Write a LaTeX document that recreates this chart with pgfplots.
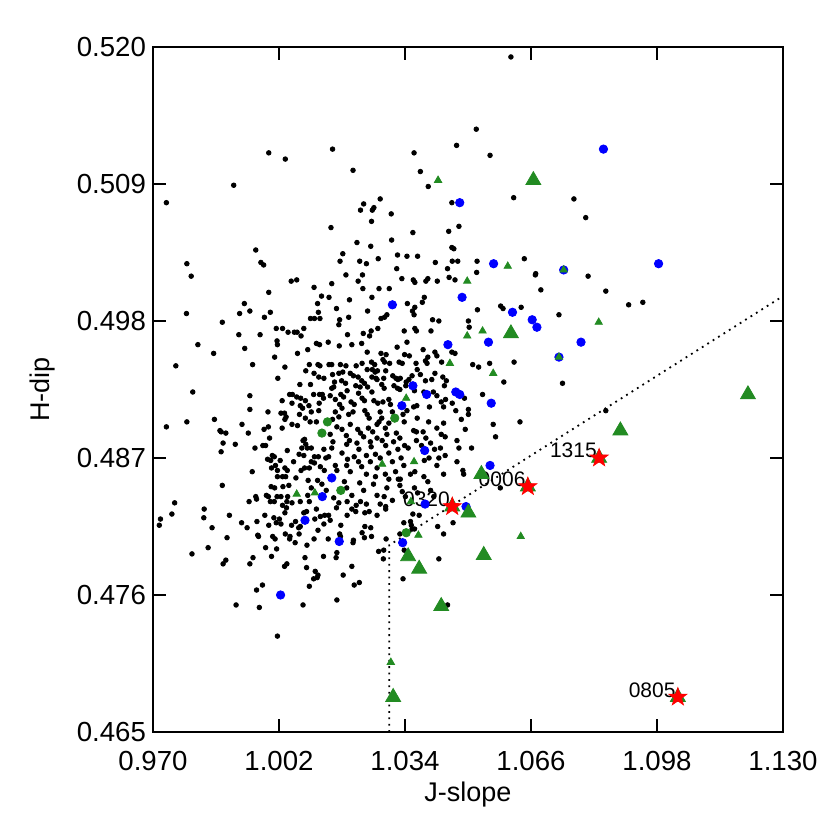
\documentclass[border=0pt]{standalone}
\usepackage{pgfplots}
\usepackage{pgfplotstable}
\pgfplotsset{compat=1.18}
\usepackage{fontspec}
\setmainfont{Liberation Sans}
\definecolor{fgreen}{RGB}{34,139,34}
\pgfdeclareplotmark{fstar}{%
  \pgfpathmoveto{\pgfpointpolar{90}{\pgfplotmarksize}}%
  \pgfpathlineto{\pgfpointpolar{126}{0.40\pgfplotmarksize}}%
  \pgfpathlineto{\pgfpointpolar{162}{\pgfplotmarksize}}%
  \pgfpathlineto{\pgfpointpolar{198}{0.40\pgfplotmarksize}}%
  \pgfpathlineto{\pgfpointpolar{234}{\pgfplotmarksize}}%
  \pgfpathlineto{\pgfpointpolar{270}{0.40\pgfplotmarksize}}%
  \pgfpathlineto{\pgfpointpolar{306}{\pgfplotmarksize}}%
  \pgfpathlineto{\pgfpointpolar{342}{0.40\pgfplotmarksize}}%
  \pgfpathlineto{\pgfpointpolar{18}{\pgfplotmarksize}}%
  \pgfpathlineto{\pgfpointpolar{54}{0.40\pgfplotmarksize}}%
  \pgfpathclose
  \pgfusepathqfillstroke
}

\pgfplotstableread{
x y
0.9994 0.5115
1.0036 0.5110
0.9905 0.5089
0.9734 0.5075
0.9961 0.5037
0.9786 0.5026
0.9974 0.5027
0.9981 0.5025
1.0609 0.5192
1.0521 0.5134
1.0156 0.5118
1.0471 0.5121
1.0363 0.5115
1.0556 0.5113
1.0208 0.5101
1.0379 0.5100
1.0399 0.5088
1.0459 0.5075
1.0616 0.5079
1.0277 0.5078
1.0235 0.5074
1.0227 0.5069
1.0257 0.5069
1.0261 0.5071
1.0305 0.5066
1.0255 0.5060
1.0152 0.5055
1.0360 0.5051
1.0451 0.5052
1.0477 0.5056
1.0218 0.5043
1.0306 0.5045
1.0253 0.5040
1.0459 0.5039
1.0464 0.5038
1.0182 0.5034
1.0175 0.5028
1.0225 0.5028
1.0242 0.5026
1.0272 0.5030
1.0321 0.5033
1.0345 0.5032
1.0372 0.5032
1.0417 0.5027
1.0448 0.5022
1.0460 0.5028
1.0474 0.5028
1.0523 0.5028
1.0522 0.5019
1.0319 0.5022
1.0643 0.5030
1.0672 0.5018
1.0190 0.5017
1.0232 0.5017
1.0769 0.5078
1.0799 0.5063
1.0805 0.5016
1.0850 0.5004
1.0908 0.4993
1.0944 0.4995
1.0731 0.4985
1.0740 0.4930
1.0850 0.4908
0.9797 0.5016
1.0051 0.5012
1.0065 0.5013
1.0109 0.5007
0.9994 0.5003
1.0128 0.5000
0.9932 0.4994
1.0118 0.4994
0.9946 0.4988
0.9998 0.4987
0.9785 0.4986
0.9920 0.4986
0.9983 0.4983
1.0120 0.4987
1.0100 0.4982
1.0110 0.4982
1.0124 0.4982
0.9876 0.4979
1.0013 0.4974
1.0029 0.4974
1.0043 0.4971
1.0059 0.4971
1.0066 0.4971
1.0076 0.4968
0.9918 0.4969
0.9972 0.4969
1.0083 0.4974
1.0015 0.4964
1.0016 0.4961
0.9814 0.4961
0.9933 0.4958
1.0093 0.4957
1.0115 0.4962
1.0123 0.4961
0.9854 0.4954
1.0067 0.4954
1.0009 0.4951
0.9758 0.4944
0.9953 0.4945
1.0035 0.4943
1.0097 0.4945
1.0119 0.4945
1.0124 0.4944
1.0088 0.4940
1.0109 0.4938
1.0121 0.4935
1.0017 0.4934
1.0134 0.4934
1.0073 0.4929
1.0100 0.4929
0.9801 0.4923
0.9946 0.4920
1.0047 0.4921
1.0054 0.4921
1.0065 0.4919
1.0075 0.4918
1.0087 0.4916
1.0108 0.4921
1.0123 0.4921
1.0130 0.4921
1.0028 0.4916
1.0053 0.4914
1.0074 0.4912
1.0080 0.4910
1.0096 0.4912
1.0122 0.4914
1.0133 0.4918
0.9946 0.4909
0.9992 0.4907
1.0025 0.4906
1.0034 0.4906
1.0038 0.4903
1.0035 0.4901
1.0072 0.4905
1.0102 0.4907
1.0121 0.4908
1.0087 0.4902
0.9856 0.4901
0.9786 0.4899
0.9734 0.4895
0.9926 0.4897
0.9982 0.4893
0.9993 0.4895
1.0028 0.4894
1.0053 0.4897
1.0067 0.4896
1.0099 0.4899
1.0115 0.4899
0.9870 0.4892
0.9873 0.4891
0.9885 0.4890
0.9942 0.4890
0.9878 0.4882
0.9996 0.4886
0.9909 0.4881
0.9873 0.4875
0.9959 0.4878
0.9979 0.4880
0.9986 0.4880
1.0003 0.4872
1.0008 0.4871
1.0041 0.4876
1.0081 0.4884
1.0085 0.4885
1.0088 0.4881
1.0078 0.4878
1.0092 0.4878
1.0102 0.4878
1.0071 0.4873
1.0083 0.4872
1.0110 0.4871
1.0120 0.4871
1.0102 0.4867
1.0110 0.4866
1.0134 0.4877
1.0139 0.4870
0.9991 0.4869
0.9999 0.4868
1.0023 0.4868
1.0057 0.4867
1.0011 0.4864
1.0016 0.4860
1.0035 0.4862
1.0041 0.4860
1.0001 0.4862
1.0076 0.4860
1.0085 0.4862
1.0097 0.4862
1.0125 0.4863
1.0135 0.4860
0.9952 0.4859
1.0037 0.4855
1.0029 0.4855
1.0016 0.4855
1.0063 0.4854
1.0094 0.4852
1.0118 0.4852
1.0129 0.4849
0.9876 0.4848
1.0000 0.4847
1.0009 0.4846
1.0030 0.4847
1.0045 0.4848
1.0093 0.4840
1.0102 0.4846
1.0140 0.4844
0.9988 0.4840
0.9993 0.4839
1.0015 0.4839
1.0025 0.4839
1.0042 0.4839
0.9961 0.4839
0.9963 0.4837
0.9755 0.4834
0.9944 0.4835
0.9998 0.4835
1.0008 0.4835
1.0040 0.4835
1.0053 0.4834
1.0074 0.4835
1.0097 0.4835
0.9748 0.4825
0.9719 0.4821
0.9716 0.4816
0.9830 0.4829
0.9829 0.4822
0.9850 0.4814
0.9894 0.4824
0.9925 0.4818
0.9939 0.4814
0.9964 0.4819
0.9984 0.4824
0.9994 0.4816
1.0007 0.4822
1.0013 0.4818
1.0021 0.4821
1.0025 0.4817
1.0029 0.4832
1.0039 0.4830
1.0035 0.4826
1.0083 0.4826
1.0090 0.4827
1.0115 0.4829
1.0125 0.4823
1.0136 0.4824
1.0052 0.4816
1.0062 0.4819
1.0070 0.4814
1.0074 0.4815
1.0111 0.4821
1.0119 0.4812
1.0134 0.4817
0.9966 0.4808
0.9968 0.4807
1.0004 0.4807
1.0010 0.4805
1.0036 0.4809
1.0048 0.4807
1.0047 0.4805
1.0071 0.4809
0.9888 0.4806
0.9840 0.4798
0.9799 0.4793
0.9986 0.4798
1.0014 0.4797
1.0061 0.4802
1.0091 0.4800
1.0109 0.4805
1.0001 0.4791
0.9954 0.4790
0.9946 0.4785
0.9878 0.4785
0.9885 0.4788
1.0034 0.4783
1.0040 0.4785
1.0086 0.4790
1.0090 0.4782
1.0133 0.4791
1.0112 0.4779
1.0108 0.4773
1.0117 0.4774
1.0119 0.4776
1.0097 0.4767
0.9978 0.4768
0.9963 0.4764
0.9911 0.4752
0.9970 0.4750
1.0081 0.4752
1.0016 0.4727
1.0166 0.4830
1.0146 0.4824
1.0150 0.4820
1.0193 0.4824
1.0205 0.4829
1.0215 0.4827
1.0216 0.4832
1.0238 0.4826
1.0249 0.4827
1.0269 0.4824
1.0291 0.4829
1.0291 0.4831
1.0177 0.4816
1.0238 0.4815
1.0253 0.4814
1.0231 0.4810
1.0237 0.4806
1.0255 0.4807
1.0174 0.4809
1.0176 0.4807
1.0145 0.4805
1.0209 0.4804
1.0208 0.4802
1.0292 0.4805
1.0167 0.4794
1.0165 0.4790
1.0273 0.4795
1.0286 0.4796
1.0285 0.4789
1.0205 0.4783
1.0183 0.4776
1.0211 0.4768
1.0224 0.4770
1.0167 0.4756
1.0360 0.4825
1.0376 0.4824
1.0337 0.4818
1.0354 0.4819
1.0356 0.4816
1.0358 0.4813
1.0364 0.4813
1.0327 0.4809
1.0423 0.4815
1.0438 0.4809
1.0462 0.4818
1.0338 0.4796
1.0448 0.4752
1.0426 0.4789
1.0335 0.4773
1.0154 0.5010
1.0221 0.5012
1.0233 0.5006
1.0274 0.5006
1.0300 0.5006
1.0332 0.5014
1.0361 0.5013
1.0365 0.5011
1.0393 0.5012
1.0398 0.5014
1.0422 0.5012
1.0452 0.5015
1.0467 0.5013
1.0671 0.5017
1.0685 0.5005
1.0147 0.4999
1.0199 0.4997
1.0256 0.4999
1.0389 0.4999
1.0384 0.4995
1.0346 0.4994
1.0365 0.4991
1.0166 0.4990
1.0245 0.4988
1.0294 0.4985
1.0288 0.4983
1.0279 0.4982
1.0410 0.4981
1.0426 0.4980
1.0359 0.4988
1.0363 0.4985
1.0524 0.4989
1.0583 0.4992
1.0589 0.4990
1.0635 0.4991
1.0501 0.4980
1.0503 0.4975
1.0174 0.4981
1.0172 0.4977
1.0197 0.4983
1.0271 0.4974
1.0254 0.4972
1.0250 0.4968
1.0338 0.4972
1.0365 0.4974
1.0369 0.4972
1.0406 0.4972
1.0194 0.4969
1.0234 0.4970
1.0145 0.4963
1.0173 0.4960
1.0205 0.4961
1.0230 0.4962
1.0244 0.4955
1.0279 0.4954
1.0292 0.4953
1.0320 0.4959
1.0339 0.4953
1.0351 0.4952
1.0345 0.4963
1.0386 0.4957
1.0398 0.4951
1.0421 0.4952
1.0416 0.4955
1.0459 0.4955
1.0467 0.4954
1.0512 0.4945
1.0527 0.4943
1.0555 0.4946
1.0617 0.4947
1.0591 0.4931
1.0147 0.4945
1.0154 0.4945
1.0176 0.4945
1.0190 0.4944
1.0216 0.4944
1.0231 0.4946
1.0255 0.4947
1.0263 0.4945
1.0284 0.4949
1.0288 0.4947
1.0301 0.4946
1.0325 0.4947
1.0333 0.4946
1.0368 0.4946
1.0392 0.4948
1.0396 0.4946
1.0416 0.4938
1.0433 0.4947
1.0156 0.4937
1.0172 0.4938
1.0182 0.4939
1.0201 0.4938
1.0209 0.4936
1.0244 0.4941
1.0257 0.4941
1.0264 0.4939
1.0270 0.4940
1.0221 0.4935
1.0230 0.4932
1.0237 0.4930
1.0256 0.4935
1.0266 0.4934
1.0269 0.4933
1.0291 0.4940
1.0286 0.4934
1.0309 0.4936
1.0317 0.4934
1.0322 0.4933
1.0328 0.4934
1.0343 0.4931
1.0350 0.4933
1.0358 0.4936
1.0371 0.4941
1.0379 0.4937
1.0392 0.4932
1.0408 0.4933
1.0436 0.4935
1.0440 0.4928
1.0445 0.4932
1.0161 0.4931
1.0179 0.4932
1.0189 0.4930
1.0215 0.4928
1.0226 0.4927
1.0154 0.4926
1.0159 0.4927
1.0193 0.4924
1.0177 0.4921
1.0184 0.4919
1.0245 0.4927
1.0256 0.4923
1.0281 0.4929
1.0287 0.4926
1.0312 0.4928
1.0321 0.4926
1.0342 0.4928
1.0327 0.4925
1.0364 0.4924
1.0388 0.4923
1.0412 0.4923
1.0421 0.4920
1.0443 0.4917
1.0460 0.4914
1.0491 0.4918
1.0537 0.4921
1.0150 0.4920
1.0163 0.4917
1.0222 0.4922
1.0231 0.4918
1.0237 0.4916
1.0261 0.4916
1.0271 0.4914
1.0284 0.4915
1.0299 0.4917
1.0303 0.4913
1.0203 0.4915
1.0211 0.4913
1.0174 0.4913
1.0180 0.4910
1.0362 0.4911
1.0370 0.4912
1.0402 0.4911
1.0432 0.4915
1.0438 0.4911
1.0469 0.4908
1.0501 0.4909
1.0501 0.4905
1.0163 0.4907
1.0172 0.4903
1.0156 0.4901
1.0197 0.4905
1.0208 0.4907
1.0238 0.4908
1.0244 0.4905
1.0249 0.4902
1.0277 0.4907
1.0281 0.4902
1.0274 0.4899
1.0308 0.4907
1.0299 0.4898
1.0335 0.4905
1.0345 0.4908
1.0338 0.4899
1.0371 0.4902
1.0400 0.4899
1.0438 0.4898
1.0483 0.4901
1.0493 0.4893
1.0632 0.4899
1.0564 0.4897
1.0570 0.4887
1.0167 0.4895
1.0180 0.4893
1.0201 0.4897
1.0220 0.4893
1.0227 0.4890
1.0235 0.4887
1.0247 0.4894
1.0258 0.4891
1.0269 0.4897
1.0269 0.4886
1.0290 0.4894
1.0294 0.4889
1.0318 0.4890
1.0327 0.4886
1.0362 0.4892
1.0369 0.4891
1.0386 0.4891
1.0393 0.4886
1.0421 0.4894
1.0432 0.4889
1.0442 0.4887
1.0150 0.4889
1.0157 0.4883
1.0191 0.4888
1.0199 0.4884
1.0192 0.4881
1.0218 0.4882
1.0223 0.4877
1.0252 0.4883
1.0254 0.4879
1.0282 0.4884
1.0291 0.4880
1.0311 0.4883
1.0322 0.4877
1.0339 0.4880
1.0348 0.4878
1.0369 0.4884
1.0382 0.4880
1.0405 0.4882
1.0415 0.4877
1.0430 0.4878
1.0442 0.4872
1.0472 0.4884
1.0477 0.4878
1.0509 0.4878
1.0154 0.4878
1.0146 0.4871
1.0180 0.4874
1.0194 0.4869
1.0211 0.4871
1.0222 0.4867
1.0242 0.4872
1.0252 0.4867
1.0265 0.4873
1.0277 0.4870
1.0299 0.4874
1.0308 0.4867
1.0330 0.4870
1.0337 0.4864
1.0389 0.4868
1.0401 0.4870
1.0426 0.4870
1.0421 0.4864
1.0472 0.4867
1.0487 0.4860
1.0438 0.4857
1.0489 0.4857
1.0582 0.4846
1.0163 0.4864
1.0167 0.4860
1.0192 0.4864
1.0201 0.4859
1.0230 0.4863
1.0242 0.4857
1.0269 0.4862
1.0265 0.4855
1.0290 0.4857
1.0299 0.4853
1.0316 0.4859
1.0328 0.4853
1.0354 0.4857
1.0365 0.4859
1.0388 0.4855
1.0398 0.4851
1.0186 0.4851
1.0192 0.4846
1.0205 0.4840
1.0225 0.4850
1.0235 0.4844
1.0260 0.4849
1.0269 0.4840
1.0294 0.4846
1.0287 0.4839
1.0323 0.4853
1.0327 0.4848
1.0333 0.4843
1.0341 0.4839
1.0364 0.4846
1.0372 0.4842
1.0405 0.4844
1.0413 0.4839
1.0159 0.4838
1.0172 0.4834
1.0193 0.4835
1.0227 0.4835
1.0242 0.4833
1.0277 0.4833
1.0308 0.4836
}\blackdots

\pgfplotstableread{
x y
1.0844 0.5118
1.0479 0.5075
1.0565 0.5026
1.0984 0.5026
1.0743 0.5021
1.0485 0.4999
1.0308 0.4993
1.0613 0.4987
1.0663 0.4981
1.0675 0.4975
1.0552 0.4963
1.0449 0.4961
1.0787 0.4963
1.0731 0.4951
1.0360 0.4928
1.0395 0.4921
1.0469 0.4923
1.0479 0.4921
1.0332 0.4912
1.0559 0.4914
1.0390 0.4876
1.0556 0.4864
1.0154 0.4854
1.0130 0.4839
1.0086 0.4820
1.0173 0.4803
1.0334 0.4802
1.0024 0.4760
1.0495 0.4831
1.0391 0.4833
}\bluedots

\pgfplotstableread{
x y
1.0143 0.4899
1.0129 0.4890
1.0314 0.4902
1.0177 0.4844
1.0343 0.4810
}\greendots

\pgfplotstableread{
x y
1.0424 0.5093
1.0601 0.5024
1.0743 0.5021
1.0498 0.5012
1.0537 0.4972
1.0498 0.4968
1.0832 0.4979
1.0731 0.4951
1.0454 0.4946
1.0564 0.4938
1.0343 0.4918
1.0282 0.4865
1.0363 0.4867
1.0065 0.4841
1.0111 0.4842
1.0374 0.4808
1.0634 0.4807
1.0304 0.4706
1.0355 0.4835
}\smalltri

\pgfplotstableread{
x y
1.0666 0.5093
1.0609 0.4970
1.1211 0.4921
1.0887 0.4892
1.0534 0.4857
1.0501 0.4826
1.0348 0.4791
1.0376 0.4781
1.0540 0.4792
1.0432 0.4751
1.0310 0.4678
1.0460 0.4831
1.0652 0.4847
1.0833 0.4870
1.1033 0.4678
}\bigtri

\pgfplotstableread{
x y
1.0460 0.4831
1.0652 0.4847
1.0833 0.4870
1.1033 0.4678
}\stars

\begin{document}
\begin{tikzpicture}
\begin{axis}[
  scale only axis,
  width=315pt, height=342.5pt,
  xmin=0.970, xmax=1.130,
  ymin=0.465, ymax=0.520,
  xtick={0.970,1.002,1.034,1.066,1.098,1.130},
  xticklabels={0.970,1.002,1.034,1.066,1.098,1.130},
  ytick={0.465,0.476,0.487,0.498,0.509,0.520},
  yticklabels={0.465,0.476,0.487,0.498,0.509,0.520},
  minor tick num=0,
  tick align=inside,
  major tick length=6.5pt,
  tick style={black, line width=0.6pt},
  axis line style={line width=0.6pt},
  ticklabel style={font=\fontsize{13.8}{16}\selectfont},
  xticklabel style={yshift=-6pt},
  xlabel={J-slope},
  ylabel={H-dip},
  label style={font=\fontsize{13.5}{16}\selectfont},
  xlabel style={at={(axis description cs:0.5,-0.092)}, anchor=center},
  ylabel style={at={(axis description cs:-0.176,0.5)}, anchor=center},
  clip=false,
]
\addplot[only marks, mark=*, mark size=1.15pt, black, mark options={draw=black, fill=black}] table {\blackdots};
\addplot[black, line width=0.9pt, dash pattern=on 0.9pt off 2.3pt] coordinates {(1.030,0.465) (1.030,0.480) (1.130,0.500)};
\addplot[only marks, mark=*, mark size=2.1pt, mark options={draw=blue, fill=blue}] table {\bluedots};
\addplot[only marks, mark=*, mark size=2.1pt, mark options={draw=fgreen, fill=fgreen}] table {\greendots};
\addplot[only marks, mark=triangle*, mark size=2.1pt, mark options={draw=fgreen, fill=fgreen}] table {\smalltri};
\addplot[only marks, mark=triangle*, mark size=4.3pt, mark options={draw=fgreen, fill=fgreen}] table {\bigtri};
\addplot[only marks, mark=fstar, mark size=4.8pt, mark options={draw=red, fill=red, line width=0.3pt}] table {\stars};
\node[anchor=base east, inner sep=0pt, font=\fontsize{10.5}{12}\selectfont, xshift=-1pt] at (axis cs:1.0460,0.4831) {0320};
\node[anchor=base east, inner sep=0pt, font=\fontsize{10.5}{12}\selectfont, xshift=-1pt] at (axis cs:1.0652,0.4847) {0006};
\node[anchor=base east, inner sep=0pt, font=\fontsize{10.5}{12}\selectfont, xshift=-1pt] at (axis cs:1.0833,0.4870) {1315};
\node[anchor=base east, inner sep=0pt, font=\fontsize{10.5}{12}\selectfont, xshift=-1pt] at (axis cs:1.1033,0.4678) {0805};
\end{axis}
\pgfresetboundingbox
\path (current axis.south west) ++(-76.5pt,-49pt) coordinate (bl);
\path (current axis.north east) ++(23pt,23.5pt) coordinate (tr);
\path[use as bounding box] (bl) rectangle (tr);
\end{tikzpicture}
\end{document}
